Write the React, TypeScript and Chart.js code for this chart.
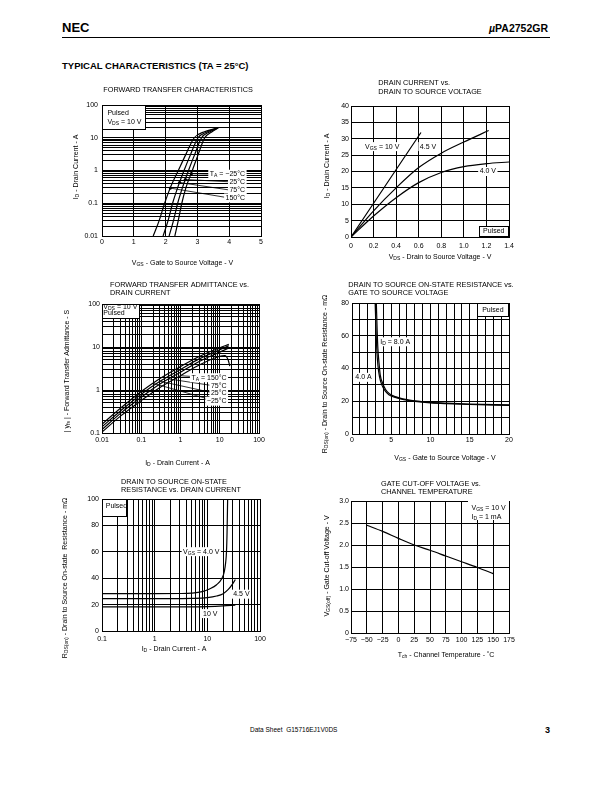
import React, { useEffect, useRef } from "react";
import { Chart, registerables } from "chart.js";
Chart.register(...registerables);

const FONT = "'Liberation Sans', Arial, Helvetica, sans-serif";

// ---------------- DATA ----------------
// 1. Forward transfer characteristics: ID (A) vs VGS (V)
const ftcDrainCurrent = [0.01, 0.03, 0.1, 0.3, 1, 3, 10, 15, 20];
const ftcVgs150C = [1.61, 1.8, 1.97, 2.15, 2.4, 2.63, 2.9, 3.2, 3.65];
const ftcVgs75C = [1.92, 2.08, 2.22, 2.38, 2.58, 2.78, 3.02, 3.3, 3.65];
const ftcVgs25C = [2.11, 2.25, 2.38, 2.53, 2.72, 2.91, 3.13, 3.38, 3.65];
const ftcVgsM25C = [2.29, 2.4, 2.51, 2.64, 2.84, 3.02, 3.23, 3.45, 3.65];
const ftcXTicks = [0, 1, 2, 3, 4, 5];
const ftcXLabels = ["0", "1", "2", "3", "4", "5"];
const ftcYTicks = [0.01, 0.1, 1, 10, 100];
const ftcYLabels = ["0.01", "0.1", "1", "10", "100"];

// 2. Drain current vs drain to source voltage
const dcVds10V = [0, 0.62];
const dcId10V = [0, 31.9];
const dcVds45V = [0, 0.2, 0.4, 0.6, 0.8, 1.0, 1.22];
const dcId45V = [0, 8.0, 15.0, 21.2, 25.6, 29.0, 32.5];
const dcVds40V = [0, 0.2, 0.4, 0.6, 0.8, 1.0, 1.2, 1.4];
const dcId40V = [0, 6.4, 12.0, 16.6, 19.7, 21.5, 22.4, 22.9];
const dcXTicks = [0, 0.2, 0.4, 0.6, 0.8, 1.0, 1.2, 1.4];
const dcXLabels = ["0", "0.2", "0.4", "0.6", "0.8", "1.0", "1.2", "1.4"];
const dcYTicks = [0, 5, 10, 15, 20, 25, 30, 35, 40];
const dcYLabels = ["0", "5", "10", "15", "20", "25", "30", "35", "40"];

// 3. Forward transfer admittance vs drain current
const ftaDrainCurrent = [0.01, 0.03, 0.1, 0.3, 1, 3, 10, 17];
const ftaYfsM25C = [0.16, 0.38, 0.92, 1.85, 3.5, 6.0, 9.6, 11.5];
const ftaYfs25C = [0.14, 0.33, 0.8, 1.6, 3.0, 5.3, 8.6, 10.7];
const ftaYfs75C = [0.12, 0.29, 0.68, 1.38, 2.6, 4.6, 7.6, 9.5];
const fta150CDrainCurrent = [0.01, 0.03, 0.1, 0.3, 1, 3, 10, 13.5, 16.4, 18];
const ftaYfs150C = [0.105, 0.25, 0.57, 1.15, 2.15, 3.8, 6.1, 6.3, 5.0, 3.6];
const ftaXTicks = [0.01, 0.1, 1, 10, 100];
const ftaXLabels = ["0.01", "0.1", "1", "10", "100"];
const ftaYTicks = [0.1, 1, 10, 100];
const ftaYLabels = ["0.1", "1", "10", "100"];

// 4. RDS(on) vs VGS
const rvVgs4A = [2.95, 3.05, 3.15, 3.3, 3.5, 3.8, 4.2, 4.7, 5.3, 6, 7, 8, 10, 12, 15, 20];
const rvR4A = [80, 65, 52, 42, 35, 30, 26.5, 24, 22.6, 21.7, 20.6, 19.9, 19, 18.5, 18, 17.5];
const rvVgs8A = [3.1, 3.2, 3.3, 3.45, 3.6, 3.9, 4.3, 4.8, 5.4, 6, 7, 8, 10, 12, 15, 20];
const rvR8A = [80, 64, 52, 43, 36, 31, 27, 24.5, 23, 22.1, 21, 20.2, 19.3, 18.8, 18.3, 17.8];
const rvXTicks = [0, 5, 10, 15, 20];
const rvXLabels = ["0", "5", "10", "15", "20"];
const rvYTicks = [0, 20, 40, 60, 80];
const rvYLabels = ["0", "20", "40", "60", "80"];

// 5. RDS(on) vs drain current
const riId40V = [0.1, 1, 3, 5, 8, 11, 15, 19, 21, 22.3, 23.1, 23.7, 24.3];
const riR40V = [28.3, 28.3, 28.4, 28.7, 29.8, 31.8, 35, 40, 45, 52, 60, 75, 100];
const riId45V = [0.1, 2, 5, 10, 15, 20, 25, 30, 34];
const riR45V = [24.5, 24.5, 24.7, 25.3, 26.5, 28.3, 31.5, 35.5, 39];
const riId10V = [0.1, 5, 10, 20, 34];
const riR10V = [18.3, 18.3, 18.5, 19, 19.6];
const riXTicks = [0.1, 1, 10, 100];
const riXLabels = ["0.1", "1", "10", "100"];
const riYTicks = [0, 20, 40, 60, 80, 100];
const riYLabels = ["0", "20", "40", "60", "80", "100"];

// 6. Gate cut-off voltage vs channel temperature
const gcTemp = [-50, -25, 0, 25, 50, 75, 100, 125, 150];
const gcVgsOff = [2.45, 2.31, 2.15, 2.0, 1.88, 1.75, 1.62, 1.49, 1.35];
const gcXTicks = [-75, -50, -25, 0, 25, 50, 75, 100, 125, 150, 175];
const gcXLabels = ["\u221275", "\u221250", "\u221225", "0", "25", "50", "75", "100", "125", "150", "175"];
const gcYTicks = [0, 0.5, 1.0, 1.5, 2.0, 2.5, 3.0];
const gcYLabels = ["0", "0.5", "1.0", "1.5", "2.0", "2.5", "3.0"];

// ---------------- HELPERS ----------------
function logGrid(lo: number, hi: number) {
  const out: number[] = [];
  for (let d = lo; d < hi * 0.999; d *= 10) for (let k = 1; k < 10; k++) out.push(+(d * k).toPrecision(6));
  out.push(hi);
  return out;
}
function linGrid(lo: number, hi: number, step: number) {
  const out: number[] = [];
  const n = Math.round((hi - lo) / step);
  for (let i = 0; i <= n; i++) out.push(+(lo + i * step).toFixed(6));
  return out;
}

type Align = "left" | "center" | "right";
type Part = { t: string; sub: boolean; w?: number };
function parseRich(text: string): Part[] {
  const parts: Part[] = [];
  const re = /_\{([^}]*)\}/g;
  let last = 0;
  let m: RegExpExecArray | null;
  while ((m = re.exec(text))) {
    if (m.index > last) parts.push({ t: text.slice(last, m.index), sub: false });
    parts.push({ t: m[1], sub: true });
    last = re.lastIndex;
  }
  if (last < text.length) parts.push({ t: text.slice(last), sub: false });
  return parts;
}
function fontStr(size: number, bold = false) {
  return `${bold ? "bold " : ""}${size}px ${FONT}`;
}
function measureRich(ctx: CanvasRenderingContext2D, text: string, size: number) {
  const parts = parseRich(text);
  let w = 0;
  for (const p of parts) {
    ctx.font = fontStr(p.sub ? size * 0.72 : size);
    p.w = ctx.measureText(p.t).width;
    w += p.w;
  }
  return { parts, w };
}
function drawRich(ctx: CanvasRenderingContext2D, text: string, x: number, y: number, size: number, align: Align, rot = 0) {
  const { parts, w } = measureRich(ctx, text, size);
  ctx.save();
  ctx.translate(x, y);
  ctx.rotate(rot);
  let cx = align === "left" ? 0 : align === "center" ? -w / 2 : -w;
  ctx.textBaseline = "middle";
  ctx.textAlign = "left";
  ctx.fillStyle = "#000";
  for (const p of parts) {
    ctx.font = fontStr(p.sub ? size * 0.72 : size);
    ctx.fillText(p.t, cx, p.sub ? size * 0.22 : 0);
    cx += p.w || 0;
  }
  ctx.restore();
  return w;
}

type AxisSpec = {
  type: "linear" | "logarithmic";
  min: number;
  max: number;
  grid: number[];
  tickValues: number[];
  tickLabels: string[];
  pad: number;
};
type Series = { xs: number[]; ys: number[] };
type Label = { x: number; y: number; text: string; align?: Align; bg?: boolean };
type Box = { x0: number; y0: number; x1: number; y1: number; border?: boolean };
type Leader = { x0: number; y0: number; x1: number; y1: number; dot?: boolean };
type PageText = { x: number; y: number; text: string; align?: Align; rot?: boolean; size?: number };
type Spec = {
  id: string;
  plot: { left: number; top: number; right: number; bottom: number };
  x: AxisSpec;
  y: AxisSpec;
  series: Series[];
  boxes: Box[];
  labels: Label[];
  leaders: Leader[];
  texts: PageText[];
};

const LM = 52, RM = 18, TM = 34, BM = 40, YW = 24, XH = 14;
const FS = 7;

function axisConfig(a: AxisSpec, dir: "x" | "y") {
  return {
    type: a.type,
    min: a.min,
    max: a.max,
    position: dir === "x" ? "bottom" : "left",
    afterBuildTicks: (s: any) => {
      s.ticks = a.grid.map((v) => ({ value: v }));
    },
    afterFit: (s: any) => {
      if (dir === "x") s.height = XH;
      else s.width = YW;
      s.paddingLeft = 0;
      s.paddingRight = 0;
      s.paddingTop = 0;
      s.paddingBottom = 0;
    },
    grid: { color: "#000", lineWidth: 1, drawTicks: false },
    border: { color: "#000", width: 1 },
    ticks: {
      autoSkip: false,
      maxRotation: 0,
      minRotation: 0,
      padding: a.pad,
      color: "#000",
      font: { family: FONT, size: FS },
      callback: (v: number) => {
        const i = a.tickValues.findIndex((t) => Math.abs(t - v) <= 1e-6 * Math.abs(t) + 1e-9);
        return i >= 0 ? a.tickLabels[i] : "";
      },
    },
  };
}

function sheetPlugin(spec: Spec) {
  const ox = spec.plot.left - LM;
  const oy = spec.plot.top - TM;
  return {
    id: "sheet-" + spec.id,
    beforeDatasetsDraw(chart: any) {
      const ctx: CanvasRenderingContext2D = chart.ctx;
      const xs = chart.scales.x, ys = chart.scales.y;
      const X = (v: number) => xs.getPixelForValue(v);
      const Y = (v: number) => ys.getPixelForValue(v);
      ctx.save();
      for (const b of spec.boxes) {
        const xa = Math.round(X(b.x0)), xb = Math.round(X(b.x1));
        const ya = Math.round(Y(b.y0)), yb = Math.round(Y(b.y1));
        const l = Math.min(xa, xb), r = Math.max(xa, xb), t = Math.min(ya, yb), bt = Math.max(ya, yb);
        ctx.fillStyle = "#fff";
        ctx.fillRect(l, t, r - l, bt - t);
        if (b.border) {
          ctx.strokeStyle = "#000";
          ctx.lineWidth = 1;
          ctx.strokeRect(l + 0.5, t + 0.5, r - l - 1, bt - t - 1);
        }
      }
      ctx.strokeStyle = "#000";
      ctx.fillStyle = "#000";
      ctx.lineWidth = 0.8;
      for (const ld of spec.leaders) {
        ctx.beginPath();
        ctx.moveTo(X(ld.x0), Y(ld.y0));
        ctx.lineTo(X(ld.x1), Y(ld.y1));
        ctx.stroke();
        if (ld.dot) {
          ctx.beginPath();
          ctx.arc(X(ld.x0), Y(ld.y0), 1.6, 0, Math.PI * 2);
          ctx.fill();
        }
      }
      for (const lb of spec.labels) {
        const align = lb.align || "left";
        const px = X(lb.x), py = Y(lb.y);
        const { w } = measureRich(ctx, lb.text, FS);
        if (lb.bg) {
          const l = align === "left" ? px : align === "center" ? px - w / 2 : px - w;
          ctx.fillStyle = "#fff";
          ctx.fillRect(l - 1.5, py - 4.5, w + 3, 9);
        }
        drawRich(ctx, lb.text, px, py, FS, align);
      }
      ctx.restore();
    },
    afterDraw(chart: any) {
      const ctx: CanvasRenderingContext2D = chart.ctx;
      for (const t of spec.texts) {
        drawRich(ctx, t.text, t.x - ox, t.y - oy, t.size || FS, t.align || "left", t.rot ? -Math.PI / 2 : 0);
      }
    },
  };
}

function makeConfig(spec: Spec): any {
  return {
    type: "scatter",
    data: {
      datasets: spec.series.map((s) => ({
        data: s.xs.map((x, i) => ({ x, y: s.ys[i] })),
        showLine: true,
        borderColor: "#000",
        borderWidth: 1.2,
        pointRadius: 0,
        cubicInterpolationMode: "monotone",
        fill: false,
      })),
    },
    options: {
      animation: false,
      responsive: false,
      events: [],
      layout: { padding: { left: LM - YW, right: RM, top: TM, bottom: BM - XH } },
      plugins: { legend: { display: false }, tooltip: { enabled: false }, title: { display: false } },
      scales: { x: axisConfig(spec.x, "x"), y: axisConfig(spec.y, "y") },
    },
    plugins: [sheetPlugin(spec)],
  };
}

// ---------------- CHART SPECS ----------------
const spec1: Spec = {
  id: "ftc",
  plot: { left: 102, top: 105, right: 261, bottom: 236 },
  x: { type: "linear", min: 0, max: 5, grid: ftcXTicks, tickValues: ftcXTicks, tickLabels: ftcXLabels, pad: 2 },
  y: { type: "logarithmic", min: 0.01, max: 100, grid: logGrid(0.01, 100), tickValues: ftcYTicks, tickLabels: ftcYLabels, pad: 4 },
  series: [
    { xs: ftcVgs150C, ys: ftcDrainCurrent },
    { xs: ftcVgs75C, ys: ftcDrainCurrent },
    { xs: ftcVgs25C, ys: ftcDrainCurrent },
    { xs: ftcVgsM25C, ys: ftcDrainCurrent },
  ],
  boxes: [{ x0: 0, y0: 100, x1: 1.38, y1: 17, border: true }],
  leaders: [
    { x0: 2.81, y0: 0.8, x1: 3.6, y1: 0.77, dot: true },
    { x0: 2.62, y0: 0.53, x1: 4.05, y1: 0.45, dot: true },
    { x0: 2.44, y0: 0.43, x1: 4.05, y1: 0.25, dot: true },
    { x0: 2.15, y0: 0.29, x1: 4.0, y1: 0.145, dot: true },
  ],
  labels: [
    { x: 0.17, y: 57, text: "Pulsed" },
    { x: 0.17, y: 30.5, text: "V_{DS} = 10 V" },
    { x: 4.5, y: 0.77, text: "T_{A} = \u221225\u00b0C", align: "right", bg: true },
    { x: 4.5, y: 0.45, text: "25\u00b0C", align: "right", bg: true },
    { x: 4.5, y: 0.25, text: "75\u00b0C", align: "right", bg: true },
    { x: 4.5, y: 0.145, text: "150\u00b0C", align: "right", bg: true },
  ],
  texts: [
    { x: 103.3, y: 90, text: "FORWARD TRANSFER CHARACTERISTICS", size: 7.3 },
    { x: 182.5, y: 262.7, text: "V_{GS} - Gate to Source Voltage - V", align: "center" },
    { x: 75.7, y: 167, text: "I_{D} - Drain Current - A", align: "center", rot: true },
  ],
};

const spec2: Spec = {
  id: "dc",
  plot: { left: 351, top: 106, right: 509, bottom: 237 },
  x: { type: "linear", min: 0, max: 1.4, grid: linGrid(0, 1.4, 0.2), tickValues: dcXTicks, tickLabels: dcXLabels, pad: 5 },
  y: { type: "linear", min: 0, max: 40, grid: linGrid(0, 40, 5), tickValues: dcYTicks, tickLabels: dcYLabels, pad: 2 },
  series: [
    { xs: dcVds10V, ys: dcId10V },
    { xs: dcVds45V, ys: dcId45V },
    { xs: dcVds40V, ys: dcId40V },
  ],
  boxes: [{ x0: 1.13, y0: 0, x1: 1.4, y1: 3.5, border: true }],
  leaders: [],
  labels: [
    { x: 0.124, y: 27.6, text: "V_{GS} = 10 V", bg: true },
    { x: 0.61, y: 27.6, text: "4.5 V", bg: true },
    { x: 1.14, y: 20, text: "4.0 V", bg: true },
    { x: 1.265, y: 1.75, text: "Pulsed", align: "center" },
  ],
  texts: [
    { x: 378.3, y: 83.3, text: "DRAIN CURRENT vs.", size: 7.3 },
    { x: 378.3, y: 92.3, text: "DRAIN TO SOURCE VOLTAGE", size: 7.3 },
    { x: 440, y: 256.7, text: "V_{DS} - Drain to Source Voltage - V", align: "center" },
    { x: 326.7, y: 166, text: "I_{D} - Drain Current - A", align: "center", rot: true },
  ],
};

const spec3: Spec = {
  id: "fta",
  plot: { left: 102, top: 304, right: 259, bottom: 433 },
  x: { type: "logarithmic", min: 0.01, max: 100, grid: logGrid(0.01, 100), tickValues: ftaXTicks, tickLabels: ftaXLabels, pad: 3 },
  y: { type: "logarithmic", min: 0.1, max: 100, grid: logGrid(0.1, 100), tickValues: ftaYTicks, tickLabels: ftaYLabels, pad: 2 },
  series: [
    { xs: ftaDrainCurrent, ys: ftaYfsM25C },
    { xs: ftaDrainCurrent, ys: ftaYfs25C },
    { xs: ftaDrainCurrent, ys: ftaYfs75C },
    { xs: fta150CDrainCurrent, ys: ftaYfs150C },
  ],
  boxes: [{ x0: 0.01, y0: 100, x1: 0.0916, y1: 44.7, border: true }],
  leaders: [
    { x0: 1.0, y0: 2.15, x1: 6, y1: 1.93 },
    { x0: 0.5, y0: 1.81, x1: 8, y1: 1.23 },
    { x0: 0.3, y0: 1.6, x1: 8, y1: 0.83 },
    { x0: 0.2, y0: 1.43, x1: 8, y1: 0.55 },
  ],
  labels: [
    { x: 0.0108, y: 83, text: "V_{DS} = 10 V" },
    { x: 0.0108, y: 60, text: "Pulsed" },
    { x: 14.9, y: 1.93, text: "T_{A} = 150\u00b0C", align: "right", bg: true },
    { x: 14.9, y: 1.23, text: "75\u00b0C", align: "right", bg: true },
    { x: 14.9, y: 0.83, text: "25\u00b0C", align: "right", bg: true },
    { x: 14.9, y: 0.55, text: "\u221225\u00b0C", align: "right", bg: true },
  ],
  texts: [
    { x: 110, y: 285, text: "FORWARD TRANSFER ADMITTANCE vs.", size: 7.3 },
    { x: 110, y: 293.3, text: "DRAIN CURRENT", size: 7.3 },
    { x: 177.5, y: 462.7, text: "I_{D} - Drain Current - A", align: "center" },
    { x: 67.3, y: 371, text: "| y_{fs} | - Forward Transfer Admittance - S", align: "center", rot: true },
  ],
};

const spec4: Spec = {
  id: "rv",
  plot: { left: 352, top: 303, right: 509, bottom: 434 },
  x: { type: "linear", min: 0, max: 20, grid: linGrid(0, 20, 1), tickValues: rvXTicks, tickLabels: rvXLabels, pad: 2 },
  y: { type: "linear", min: 0, max: 80, grid: linGrid(0, 80, 10), tickValues: rvYTicks, tickLabels: rvYLabels, pad: 3 },
  series: [
    { xs: rvVgs4A, ys: rvR4A },
    { xs: rvVgs8A, ys: rvR8A },
  ],
  boxes: [{ x0: 15.9, y0: 80, x1: 20, y1: 71.5, border: true }],
  leaders: [],
  labels: [
    { x: 17.95, y: 75.8, text: "Pulsed", align: "center" },
    { x: 3.6, y: 56.3, text: "I_{D} = 8.0 A", bg: true },
    { x: 0.42, y: 34.6, text: "4.0 A", bg: true },
  ],
  texts: [
    { x: 348.3, y: 285, text: "DRAIN TO SOURCE ON-STATE RESISTANCE vs.", size: 7.3 },
    { x: 348.3, y: 292.7, text: "GATE TO SOURCE VOLTAGE", size: 7.3 },
    { x: 445, y: 457.7, text: "V_{GS} - Gate to Source Voltage - V", align: "center" },
    { x: 325, y: 374, text: "R_{DS(on)} - Drain to Source On-state Resistance - m\u03a9", align: "center", rot: true },
  ],
};

const spec5: Spec = {
  id: "ri",
  plot: { left: 102, top: 499, right: 260, bottom: 631 },
  x: { type: "logarithmic", min: 0.1, max: 100, grid: logGrid(0.1, 100), tickValues: riXTicks, tickLabels: riXLabels, pad: 4 },
  y: { type: "linear", min: 0, max: 100, grid: linGrid(0, 100, 20), tickValues: riYTicks, tickLabels: riYLabels, pad: 3 },
  series: [
    { xs: riId40V, ys: riR40V },
    { xs: riId45V, ys: riR45V },
    { xs: riId10V, ys: riR10V },
  ],
  boxes: [{ x0: 0.1, y0: 100, x1: 0.3, y1: 86.5, border: true }],
  leaders: [],
  labels: [
    { x: 0.1176, y: 94.9, text: "Pulsed" },
    { x: 3.47, y: 60.1, text: "V_{GS} = 4.0 V", bg: true },
    { x: 31, y: 27.9, text: "4.5 V", bg: true },
    { x: 8.3, y: 13.2, text: "10 V", bg: true },
  ],
  texts: [
    { x: 121, y: 481.7, text: "DRAIN TO SOURCE ON-STATE", size: 7.3 },
    { x: 121, y: 490, text: "RESISTANCE vs. DRAIN CURRENT", size: 7.3 },
    { x: 174, y: 649.3, text: "I_{D} - Drain Current - A", align: "center" },
    { x: 65, y: 578, text: "R_{DS(on)} - Drain to Source On-state  Resistance - m\u03a9", align: "center", rot: true },
  ],
};

const spec6: Spec = {
  id: "gc",
  plot: { left: 351, top: 501, right: 509, bottom: 633 },
  x: { type: "linear", min: -75, max: 175, grid: linGrid(-75, 175, 25), tickValues: gcXTicks, tickLabels: gcXLabels, pad: 3 },
  y: { type: "linear", min: 0, max: 3, grid: linGrid(0, 3, 0.5), tickValues: gcYTicks, tickLabels: gcYLabels, pad: 2 },
  series: [{ xs: gcTemp, ys: gcVgsOff }],
  boxes: [{ x0: 110, y0: 3.0, x1: 175, y1: 2.57 }],
  leaders: [],
  labels: [
    { x: 115.6, y: 2.85, text: "V_{GS} = 10 V" },
    { x: 115.6, y: 2.64, text: "I_{D} = 1 mA" },
  ],
  texts: [
    { x: 381, y: 484, text: "GATE CUT-OFF VOLTAGE vs.", size: 7.3 },
    { x: 381, y: 492.3, text: "CHANNEL TEMPERATURE", size: 7.3 },
    { x: 446, y: 655, text: "T_{ch} - Channel Temperature - \u02daC", align: "center" },
    { x: 327.3, y: 566, text: "V_{GS(off)} - Gate Cut-off Voltage - V", align: "center", rot: true },
  ],
};

const specs = [spec1, spec2, spec3, spec4, spec5, spec6];

// ---------------- COMPONENTS ----------------
function SheetChart({ spec }: { spec: Spec }) {
  const ref = useRef<HTMLCanvasElement>(null);
  useEffect(() => {
    if (!ref.current) return;
    const chart = new Chart(ref.current, makeConfig(spec));
    return () => chart.destroy();
  }, [spec]);
  const { left, top, right, bottom } = spec.plot;
  const w = right - left + LM + RM;
  const h = bottom - top + TM + BM;
  return (
    <canvas
      ref={ref}
      width={w}
      height={h}
      style={{ position: "absolute", left: left - LM, top: top - TM, width: w, height: h }}
    />
  );
}

function PageLabel(props: { x: number; y: number; size: number; bold?: boolean; right?: boolean; children: React.ReactNode }) {
  const { x, y, size, bold, right, children } = props;
  return (
    <div
      style={{
        position: "absolute",
        left: x,
        top: y - size * 0.6,
        fontSize: size,
        lineHeight: `${size * 1.2}px`,
        fontFamily: FONT,
        fontWeight: bold ? "bold" : "normal",
        whiteSpace: "nowrap",
        transform: right ? "translateX(-100%)" : undefined,
        color: "#000",
      }}
    >
      {children}
    </div>
  );
}

export default function App() {
  return (
    <div style={{ position: "absolute", left: 0, top: 0, width: 612, height: 792, background: "#fff", overflow: "hidden" }}>
      <PageLabel x={62} y={28} size={13} bold>
        NEC
      </PageLabel>
      <PageLabel x={548} y={28} size={10.5} bold right>
        <i>&micro;</i>PA2752GR
      </PageLabel>
      <div style={{ position: "absolute", left: 62, top: 37, width: 488, height: 1, background: "#000" }} />
      <PageLabel x={62} y={66} size={9.5} bold>
        TYPICAL CHARACTERISTICS (TA = 25&deg;C)
      </PageLabel>
      {specs.map((s) => (
        <SheetChart key={s.id} spec={s} />
      ))}
      <PageLabel x={250} y={730} size={6.5}>
        Data Sheet&nbsp;&nbsp;G15716EJ1V0DS
      </PageLabel>
      <PageLabel x={550} y={730} size={9} bold right>
        3
      </PageLabel>
    </div>
  );
}
